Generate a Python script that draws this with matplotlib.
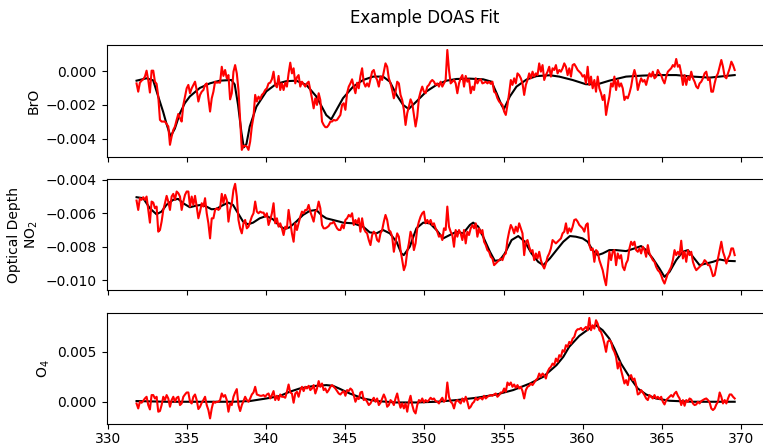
import numpy as np
import matplotlib.pyplot as plt

# measured optical depths (units of 1e-3), evenly sampled from 331.79 to 369.62 nm
bro_meas = np.array([
    -0.73, -1.22, -0.69, -0.57, -0.49, -0.33, 0.02, -0.53, -1.27, 0.02, 0.02, -0.63, -0.76, -1.51,
    -2.88, -2.98, -2.98, -2.98, -3.12, -3.27, -4.35, -3.86, -3.47, -3.27, -2.88, -2.53, -2.78, -2.98,
    -2.0, -1.51, -1.02, -0.82, -1.31, -1.02, -0.82, -0.63, -1.12, -1.80, -1.41, -1.22, -1.12, -0.82,
    -0.73, -1.61, -2.39, -1.61, -1.22, -0.63, -0.69, -0.67, -0.69, 0.25, -0.29, 0.06, -0.43, -0.24,
    -1.67, -1.31, -0.04, 0.35, -0.14, -1.12, -2.88, -4.65, -4.41, -4.41, -4.45, -4.65, -4.16, -3.27,
    -2.69, -1.41, -1.80, -1.51, -1.67, -1.41, -1.31, -1.12, -1.02, -0.73, -0.69, -0.49, -0.04, -0.82,
    -0.96, -0.29, -1.12, -0.73, -1.12, -0.69, -0.92, -0.14, 0.49, -0.14, 0.16, -0.73, -0.37, -0.24,
    -0.92, -0.63, -0.78, -0.92, -0.73, -0.63, -1.12, -1.61, -2.20, -1.61, -2.0, -1.31, -1.71, -2.98,
    -3.18, -3.31, -3.31, -3.18, -2.98, -2.98, -2.88, -2.92, -2.88, -2.73, -2.59,
    -2.0, -1.90, -2.29, -1.31, -0.92, -0.73, -0.49, -0.92, -1.31, -0.69, -1.02, -0.29, 0.16, -0.69,
    -0.92, -0.73, -0.92, -0.49, -0.04, 0.06, -0.33, -0.53, -0.92, -0.33, -0.53, -0.04, 0.45, 0.25,
    -0.43, -0.73, -1.12, -1.61, -1.22, -0.63, -0.73, -1.41, -1.71, -2.29, -3.18, -2.49, -2.10, -1.67,
    -1.90, -2.59, -3.27, -2.69, -1.61, -1.22, -0.92, -1.22, -1.31, -0.92, -0.82, -0.63, -0.53, -0.63,
    -0.82, -0.73, -0.92, -0.63, -0.92, -0.73, -0.53, 1.24, 0.06, -0.73, -0.63, -0.53, -0.73, -1.31,
    -0.73, -0.43, -0.24, -0.92, -0.29, -0.63, -0.49, -1.31, -0.92, -1.12, -0.43, -0.73, -0.53, -0.49,
    -0.73, -0.69, -0.63, -0.73, -0.63, -0.76, -0.63, -1.22, -1.31, -1.61, -1.80, -1.90, -2.0, -2.39,
    -2.59, -2.0, -1.31, -0.53, -0.82, -0.43, -0.73, -0.14, -0.24, -0.43, -0.73, -1.41, -0.82, -0.53,
    -0.14, -0.43, -0.04, -0.33, -0.14, -0.24, 0.45, -0.04, 0.35, -0.53, -0.24, -0.04, 0.25, -0.33,
    0.16, 0.06, 0.35, -0.14, 0.06, -0.04, 0.16, 0.45, 0.25, -0.24, 0.16, -0.33,
    0.35, 0.41, 0.25, 0.06, -0.04, -0.14, -0.33, -0.24, -0.73, 0.25, -0.82, -0.33, -1.02, -0.53,
    -1.22, -0.33, -1.02, -1.31, -1.71, -1.41, -2.59, -2.0, -1.51, -0.73, -0.92, -0.33, -1.12, -0.53,
    -0.92, -0.73, -1.02, -1.71, -1.51, -1.61, -1.31, -0.92, -0.33, 0.06, -0.33, -1.12, -0.73, -0.43,
    -0.63, -0.53, -0.82, -0.43, -0.14, -0.33, -0.04, -0.43, -0.33, 0.06, -0.14, -0.24, -0.53, -0.73,
    -0.33, -0.04, 0.06, 0.16, 0.35, 0.25, 0.71, 0.25, 0.35, -0.14, -0.82, -0.24, -0.82, -0.33,
    -0.53, -0.04, -0.43, -0.63, -0.92, -1.02, -0.73, -0.63, -0.43, -0.14, -0.04, -0.53, -0.43, -1.22,
    -1.22, -0.73, -0.33, -0.14, 0.25, 0.65, 0.25, -0.33, -0.43, -0.14, 0.16, 0.55, 0.35, 0.06,
]) * 1e-3

no2_meas = np.array([
    -5.24, -5.8, -5.1, -5.2, -5.04, -5.2, -5.0, -5.8, -6.56, -5.3, -5.36, -5.7, -5.6, -7.1,
    -7.0, -6.5, -5.8, -5.4, -4.96, -5.3, -5.8, -5.0, -4.84, -5.2, -4.7, -4.8, -5.0, -5.8,
    -5.3, -4.9, -4.7, -4.7, -5.6, -5.0, -5.5, -4.96, -5.6, -6.3, -5.9, -5.4, -5.6, -5.1,
    -6.0, -6.6, -7.5, -6.3, -6.3, -5.8, -5.7, -5.8, -5.7, -4.84, -5.4, -4.9, -5.2, -6.5,
    -5.8, -5.4, -4.6, -4.24, -5.0, -6.4, -6.9, -7.2, -6.6, -6.4, -6.9, -6.8, -6.5, -6.2,
    -6.0, -5.3, -5.9, -6.0, -5.9, -5.96, -5.96, -6.2, -6.0, -6.7, -6.4, -6.0, -5.4, -6.6,
    -6.3, -6.8, -6.6, -6.9, -7.3, -6.8, -6.9, -5.8, -6.5, -7.2, -7.7, -6.6, -7.0, -6.6,
    -6.2, -5.9, -6.0, -5.8, -5.8, -5.5, -5.9, -6.2, -6.5, -5.9, -5.8, -5.3, -5.7, -6.7,
    -6.9, -6.9, -6.84, -6.76, -6.6, -6.6, -6.5, -6.7, -6.9, -7.0, -7.0,
    -6.7, -6.9, -6.4, -6.3, -6.1, -6.2, -6.0, -6.7, -6.4, -6.6, -6.3, -7.1, -6.3, -6.9,
    -7.1, -7.2, -7.6, -7.9, -7.3, -7.1, -7.2, -7.6, -7.7, -7.2, -7.0, -6.5, -6.1, -6.4,
    -7.0, -7.1, -7.4, -8.3, -7.7, -7.2, -7.4, -8.2, -8.8, -9.4, -9.1, -8.3, -7.8, -7.1,
    -7.4, -8.2, -7.8, -6.9, -6.5, -6.2, -6.0, -5.9, -6.6, -6.4, -6.6, -6.4, -6.7, -6.6,
    -6.9, -7.1, -7.4, -7.3, -7.6, -6.9, -7.0, -5.6, -6.8, -7.1, -7.3, -8.0, -7.0, -7.4,
    -7.0, -7.2, -7.6, -7.0, -7.8, -7.1, -7.3, -6.9, -6.7, -6.9, -6.6, -7.4, -6.9, -7.2,
    -7.0, -7.7, -7.9, -8.2, -8.3, -8.6, -8.7, -9.1, -9.0, -8.9, -8.8, -8.7, -8.8, -8.5,
    -8.4, -7.6, -7.1, -6.7, -6.9, -7.2, -6.8, -7.1, -6.6, -6.9, -7.2, -8.5, -7.7, -7.6,
    -8.0, -8.3, -8.2, -8.8, -8.4, -8.7, -8.3, -8.8, -9.1, -9.3, -9.0, -8.6, -8.4, -8.1,
    -7.6, -7.7, -7.8, -7.7, -7.6, -7.5, -7.2, -7.1, -6.6, -7.2, -6.9, -7.1,
    -6.8, -6.4, -6.36, -6.5, -6.7, -6.8, -6.9, -7.1, -6.7, -6.6, -7.9, -8.2, -8.1, -8.9,
    -8.2, -8.3, -8.8, -9.1, -9.4, -9.9, -10.3, -9.3, -8.3, -8.8, -8.3, -8.2, -9.1, -8.4,
    -8.7, -8.5, -9.2, -9.4, -9.0, -8.8, -8.1, -7.7, -7.9, -7.7, -8.2, -8.3, -8.1, -8.4,
    -8.0, -8.2, -8.6, -7.9, -8.4, -8.6, -8.8, -8.9, -9.2, -9.4, -9.5, -9.7, -10.0, -10.2,
    -9.9, -9.6, -9.4, -9.2, -8.8, -8.2, -8.5, -8.3, -8.5, -7.64, -8.7, -8.3, -8.9, -8.2,
    -8.5, -8.3, -8.9, -9.2, -9.4, -9.3, -9.2, -9.1, -9.0, -8.8, -8.9, -9.1, -9.1, -9.4,
    -9.76, -9.7, -9.2, -8.7, -8.2, -7.7, -8.3, -8.6, -9.0, -8.7, -8.5, -8.1, -8.1, -8.5,
]) * 1e-3

o4_meas = np.array([
    -0.17, -0.67, 0.0, -0.1, 0.1, 0.33, 0.5, -0.33, -0.77, 0.67, 0.67, 0.33, 0.5, -1.0,
    -0.93, -0.33, 0.5, 0.17, 0.67, 0.33, -0.5, 0.17, 0.5, 0.0, 0.4, 0.5, -0.33, -0.17,
    0.5, 0.73, 0.93, 0.93, 0.0, -0.17, 0.5, 0.73, 0.17, -0.73, -0.5, -0.1, 0.17, 0.5,
    -0.33, -0.83, -1.67, -0.67, 0.0, -0.1, 0.0, 0.0, 0.17, 0.83, 0.5, 0.67, 0.17, -1.0,
    -0.17, -0.33, 0.5, 0.93, 1.27, -0.33, -0.93, -0.33, 0.07, 0.5, 0.17, 0.0, 0.33, 0.73,
    0.93, 1.5, 0.73, 0.67, 0.6, 0.6, 0.67, 0.5, 0.73, 0.83, 0.33, 0.67, 1.07, 0.17,
    0.6, 0.17, 0.73, 0.5, 0.5, 0.4, 1.0, 1.73, 0.93, 0.83, -0.1, 0.83, 1.0, 0.5,
    1.17, 1.5, 1.07, 1.5, 1.33, 1.6, 1.17, 1.33, 1.67, 0.83, 1.33, 2.07, 1.5, 1.83,
    1.17, 1.33, 0.93, 1.17, 1.5, 1.67, 1.5, 1.33, 1.07, 0.83, 0.73,
    0.93, 1.07, 0.6, 1.17, 1.07, 1.33, 1.17, 0.67, 0.0, 0.4, 0.27, 0.93, 1.0, 0.17,
    0.27, 0.0, -0.33, -0.17, 0.17, 0.4, 0.0, 0.33, -0.33, -0.1, 0.33, 0.73, 0.33, -0.5,
    -0.33, 0.17, 0.0, -0.33, 0.33, 0.83, 0.0, -0.6, -0.17, -0.67, -0.17, -1.0, 0.0, 0.6,
    -0.33, -0.93, -1.17, -0.33, 0.17, 0.0, 0.33, -0.07, 0.17, 0.0, 0.17, 0.4, 0.23, 0.33,
    0.07, 0.0, -0.17, 0.17, 0.4, 0.0, 0.17, 1.93, 0.5, 0.0, -0.17, -0.67, 0.0, 0.17,
    0.0, -0.17, 0.33, 0.0, 0.5, 0.0, -0.67, -0.5, -0.17, 0.0, 0.4, 0.17, 0.33, 0.4,
    0.23, 0.6, 0.33, 0.5, 0.6, 0.67, 0.6, 0.73, 0.83, 0.5, 0.67, 0.93, 0.93, 1.33,
    1.0, 1.93, 1.67, 1.93, 1.5, 1.73, 1.4, 1.67, 1.33, 1.5, 1.07, 0.33, 1.17, 1.5,
    1.6, 1.83, 1.67, 1.93, 2.17, 2.33, 2.83, 2.5, 2.83, 2.67, 2.33, 3.0, 3.33, 3.5,
    3.83, 3.67, 4.33, 4.0, 4.67, 4.5, 5.17, 5.0, 5.67, 5.5, 6.0, 5.83,
    6.33, 6.5, 7.07, 7.27, 7.27, 7.4, 7.17, 7.33, 7.5, 7.17, 8.4, 7.17, 7.67, 7.33,
    8.17, 7.83, 7.17, 7.0, 6.5, 5.83, 5.0, 6.0, 6.17, 6.0, 5.33, 5.0, 4.5, 3.33,
    4.0, 3.17, 2.5, 1.83, 2.17, 1.67, 2.5, 2.67, 2.17, 2.33, 1.67, 0.73, 0.83, 1.17,
    0.93, 0.67, 0.33, 0.17, 0.67, 0.5, 0.33, 0.67, 0.33, 0.5, 0.27, 0.5, 0.0, -0.27,
    0.17, 0.33, 0.5, 0.67, 0.5, 0.83, 1.0, 0.6, 0.33, -0.33, 0.17, -0.4, 0.17, 0.0,
    0.33, 0.23, -0.17, -0.33, -0.27, 0.0, -0.17, 0.07, 0.17, 0.27, 0.33, 0.17, -0.07, -0.67,
    -0.83, -0.67, -0.27, 0.0, 0.93, 0.5, -0.17, 0.17, -0.17, 0.33, 0.73, 0.73, 0.5, 0.33,
]) * 1e-3

# fitted optical depths (units of 1e-3) at selected wavelengths
bro_fit_wl = [331.79, 332.42, 332.84, 333.16, 333.47, 333.68, 333.94, 334.21, 334.53, 334.84,
              335.16, 335.79, 336.42, 337.05, 337.79, 338.0, 338.21, 338.42, 338.57, 338.74,
              338.95, 339.37, 340.0, 340.63, 341.26, 341.89, 342.53, 343.16, 343.79, 344.1,
              344.43, 344.85, 345.49, 346.12, 346.75, 347.38, 347.81, 348.23, 348.65, 349.0,
              349.49, 350.13, 350.76, 351.39, 352.03, 352.87, 353.71, 354.24, 354.56, 354.87,
              355.02, 355.4, 355.82, 356.46, 357.09, 357.93, 358.52, 359.37, 360.21, 360.95,
              361.69, 362.75, 363.81, 364.86, 365.92, 366.98, 368.03, 369.09, 369.62]
bro_fit = np.array([-0.57, -0.43, -0.55, -1.5, -2.4, -3.1, -3.86, -3.4, -2.5, -1.9,
                    -1.5, -1.0, -0.73, -0.57, -0.53, -0.8, -2.0, -3.6, -4.5, -4.3,
                    -3.27, -2.1, -1.2, -0.76, -0.6, -0.57, -0.82, -1.5, -2.6, -2.85,
                    -2.3, -1.6, -0.92, -0.53, -0.33, -0.33, -0.63, -1.4, -2.0, -2.24,
                    -1.8, -1.2, -0.82, -0.57, -0.47, -0.45, -0.49, -0.63, -1.3, -2.0,
                    -2.25, -1.5, -0.92, -0.5, -0.3, -0.25, -0.33, -0.53, -0.78, -0.78,
                    -0.57, -0.33, -0.27, -0.24, -0.24, -0.33, -0.39, -0.29, -0.24]) * 1e-3

no2_fit_wl = [331.79, 332.21, 332.63, 333.05, 333.37, 333.68, 334.1, 334.42, 334.74, 335.16,
              335.58, 335.89, 336.21, 336.53, 336.84, 337.16, 337.58, 337.89, 338.21, 338.53,
              338.84, 339.16, 339.58, 340.0, 340.42, 340.84, 341.16, 341.47, 341.89, 342.32,
              342.74, 343.16, 343.47, 343.79, 344.21, 344.63, 344.85, 345.49, 346.12, 346.54,
              346.96, 347.38, 347.81, 348.23, 348.54, 348.69, 349.07, 349.49, 349.92, 350.34,
              350.76, 351.18, 351.6, 352.03, 352.45, 352.87, 353.08, 353.4, 353.71, 354.14,
              354.45, 354.77, 355.08, 355.51, 355.93, 356.35, 356.77, 357.19, 357.51, 357.93,
              358.35, 358.78, 359.2, 359.58, 360.0, 360.32, 360.63, 360.95, 361.27, 361.69,
              362.11, 362.75, 363.28, 363.7, 364.02, 364.44, 364.86, 365.18, 365.5, 365.92,
              366.34, 366.66, 366.98, 367.4, 367.82, 368.25, 368.67, 369.09, 369.62]
no2_fit = np.array([-5.04, -5.1, -5.7, -6.06, -5.9, -5.5, -5.2, -5.14, -5.4, -5.64,
                    -5.54, -5.5, -5.6, -5.76, -5.74, -5.56, -5.36, -5.5, -6.0, -6.5,
                    -6.66, -6.56, -6.3, -6.16, -6.36, -6.76, -6.94, -6.84, -6.5, -6.1,
                    -5.86, -5.8, -6.1, -6.3, -6.4, -6.5, -6.56, -6.6, -6.8, -7.14,
                    -7.2, -7.0, -7.2, -7.7, -8.4, -8.5, -8.0, -6.9, -6.56, -6.6,
                    -7.0, -7.5, -7.3, -7.1, -7.2, -6.7, -6.56, -6.8, -7.4, -8.3,
                    -8.84, -8.8, -8.4, -7.6, -7.36, -7.7, -8.4, -8.9, -9.1, -8.7,
                    -8.2, -7.7, -7.36, -7.4, -7.5, -7.7, -8.2, -8.5, -8.4, -8.2,
                    -8.2, -8.26, -8.1, -7.96, -8.2, -8.7, -9.3, -9.8, -9.5, -8.8,
                    -8.3, -8.2, -8.6, -9.1, -9.0, -8.9, -8.76, -8.84, -8.86]) * 1e-3

o4_fit_wl = [331.79, 333.68, 335.79, 337.89, 338.95, 340.0, 340.84, 341.47, 342.11, 342.95,
             343.79, 344.21, 344.64, 345.27, 346.12, 346.96, 348.23, 349.49, 350.76, 352.03,
             353.29, 354.56, 355.61, 356.67, 357.51, 358.35, 358.78, 359.15, 359.79, 360.42,
             360.85, 361.27, 361.69, 362.01, 362.43, 362.96, 363.49, 364.02, 364.65, 365.5,
             366.98, 369.62]
o4_fit = np.array([0.07, 0.0, 0.0, 0.0, 0.07, 0.33, 0.57, 1.0, 1.33, 1.57,
                   1.67, 1.6, 1.3, 0.83, 0.33, 0.07, -0.07, -0.07, 0.0, 0.17,
                   0.4, 0.73, 1.17, 1.83, 2.5, 3.67, 4.5, 5.5, 6.6, 7.33,
                   7.67, 7.17, 6.33, 5.33, 3.83, 2.5, 1.33, 0.73, 0.33, 0.1,
                   0.0, 0.0]) * 1e-3

panels = [
    ('BrO', bro_meas, bro_fit_wl, bro_fit, (-0.00504, 0.00153), [-0.004, -0.002, 0.0]),
    ('Optical Depth\nNO$_2$', no2_meas, no2_fit_wl, no2_fit, (-0.0106, -0.00394),
     [-0.010, -0.008, -0.006, -0.004]),
    ('O$_4$', o4_meas, o4_fit_wl, o4_fit, (-0.00223, 0.00894), [0.0, 0.005]),
]

fig, axes = plt.subplots(3, 1, sharex=True, figsize=(7.63, 4.46), dpi=100)
fig.subplots_adjust(left=0.1398, right=1.006, top=0.899, bottom=0.0493, hspace=0.2)

for ax, (label, meas, fit_wl, fit, ylim, yticks) in zip(axes, panels):
    wl = np.linspace(331.79, 369.62, len(meas))
    ax.plot(fit_wl, fit, color='k', lw=1.5)
    ax.plot(wl, meas, color='r', lw=1.5)
    ax.set_ylim(*ylim)
    ax.set_yticks(yticks)
    ax.set_ylabel(label)

axes[-1].set_xlim(329.9, 371.7)
axes[-1].set_xticks([330, 335, 340, 345, 350, 355, 360, 365, 370])
axes[-1].tick_params(axis='x', pad=2)

fig.text(425 / 763, 1 - 18 / 446, 'Example DOAS Fit', ha='center', va='center', fontsize=12)

fig.savefig('out.png', dpi=100)
